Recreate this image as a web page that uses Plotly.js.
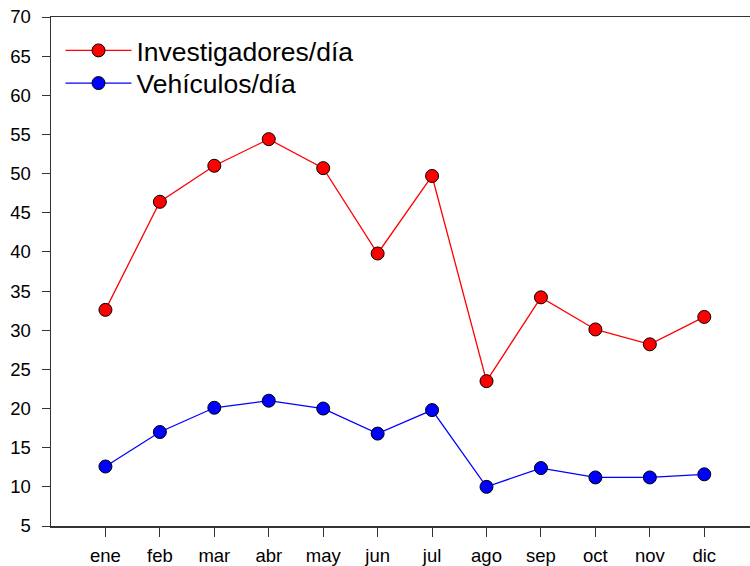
<!DOCTYPE html>
<html>
<head>
<meta charset="utf-8">
<script src="https://cdn.plot.ly/plotly-3.0.1.min.js"></script>
<style>html,body{margin:0;padding:0;background:#fff;}#chart{width:750px;height:566px;}</style>
</head>
<body>
<div id="chart"></div>
<script>
const months = ["ene","feb","mar","abr","may","jun","jul","ago","sep","oct","nov","dic"];
const monthPos = [1,2,3,4,5,6,7,8,9,10,11,12];
const investigadores = [32.6, 46.4, 51.0, 54.4, 50.7, 39.8, 49.7, 23.5, 34.2, 30.1, 28.2, 31.7];
const vehiculos = [12.6, 17.0, 20.1, 21.0, 20.0, 16.8, 19.8, 10.0, 12.4, 11.2, 11.2, 11.6];
const yTicks = [5,10,15,20,25,30,35,40,45,50,55,60,65,70];

const traces = [
  {x: monthPos, y: investigadores, name: "Investigadores/día", type: "scatter", mode: "lines+markers",
   legend: "legend",
   line: {color: "#ff0000", width: 1.3},
   marker: {color: "#ff0000", size: 13, line: {color: "#000000", width: 1}}},
  {x: monthPos, y: vehiculos, name: "Vehículos/día", type: "scatter", mode: "lines+markers",
   legend: "legend2",
   line: {color: "#0000ff", width: 1.3},
   marker: {color: "#0000ff", size: 13, line: {color: "#000000", width: 1}}}
];

const legendBase = {xanchor: "left", yanchor: "middle", bgcolor: "rgba(0,0,0,0)",
                    font: {size: 26.5, color: "#000000"}, itemwidth: 66};

const layout = {
  width: 750, height: 566,
  margin: {l: 51, r: 0, t: 17, b: 40, pad: 0},
  paper_bgcolor: "#ffffff", plot_bgcolor: "#ffffff",
  font: {family: "Liberation Sans, Arial, sans-serif", color: "#000000", size: 18.5},
  showlegend: true,
  legend: Object.assign({}, legendBase, {x: 0.0136, y: 0.9338}),
  legend2: Object.assign({}, legendBase, {x: 0.0136, y: 0.8697}),
  xaxis: {
    range: [0, 12.84], tickmode: "array", tickvals: monthPos, ticktext: months,
    showgrid: false, zeroline: false, showline: true, linecolor: "#333333", linewidth: 1.5,
    mirror: true, ticks: "outside", ticklen: 9, tickwidth: 1, tickcolor: "#333333",
    tickfont: {size: 18.5}, ticklabelstandoff: 3
  },
  yaxis: {
    range: [5, 70], tickmode: "array", tickvals: yTicks,
    showgrid: false, zeroline: false, showline: true, linecolor: "#333333", linewidth: 1.5,
    ticks: "outside", ticklen: 8, tickwidth: 1, tickcolor: "#333333",
    tickfont: {size: 18.5}, ticklabelstandoff: 7
  }
};

Plotly.newPlot("chart", traces, layout, {displayModeBar: false, staticPlot: true});
</script>
</body>
</html>
